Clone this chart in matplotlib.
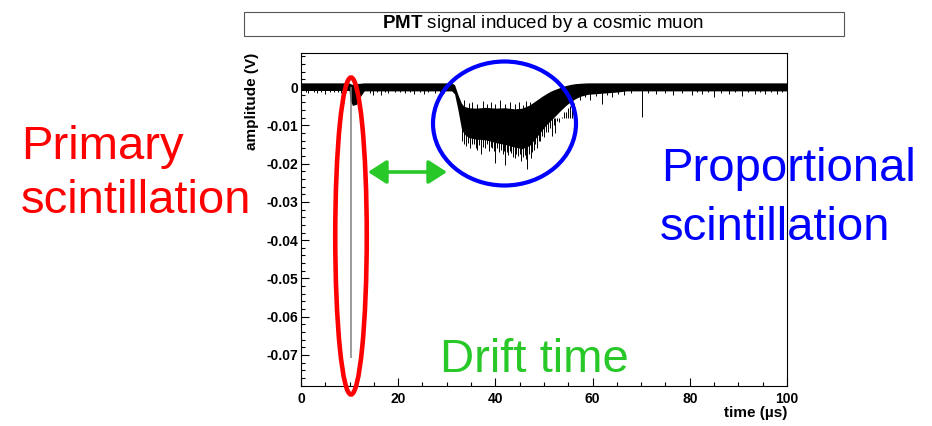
import numpy as np
from matplotlib import pyplot as plt
from matplotlib.patches import Ellipse, Rectangle, FancyArrowPatch

plt.rcParams['font.family'] = ['Liberation Sans', 'DejaVu Sans']
plt.rcParams['mathtext.fontset'] = 'custom'
plt.rcParams['mathtext.bf'] = 'Liberation Sans:bold'

# noise band of the waveform (time in us, amplitude in V)
t_env = [0, 9.9, 10.1, 10.6, 11.4, 12.2, 13.0, 31.0, 31.6, 32.3, 33.0, 33.5, 34.5, 36, 38, 40,
         42, 44, 45.5, 47, 48.5, 49.5, 50.5, 51.5, 52.5, 53.5, 54.5, 55.5, 56.5, 57.5, 59,
         62, 65, 67, 100]
env_hi = [0.0011, 0.0011, 0.0009, 0.0007, 0.0009, 0.0010, 0.0011, 0.0011, 0.0006, -0.0020,
          -0.0042, -0.0050, -0.0054, -0.0055, -0.0053, -0.0055, -0.0054, -0.0057, -0.0055,
          -0.0047, -0.0034, -0.0025, -0.0017, -0.0010, -0.0005, 0.0000, 0.0004, 0.0007,
          0.0009, 0.0010, 0.0011, 0.0011, 0.0011, 0.0011, 0.0011]
env_lo = [-0.0009, -0.0009, -0.0035, -0.0048, -0.0045, -0.0025, -0.0010, -0.0010, -0.0018,
          -0.0060, -0.0108, -0.0122, -0.0132, -0.0136, -0.0138, -0.0145, -0.0150, -0.0157,
          -0.0161, -0.0153, -0.0130, -0.0114, -0.0098, -0.0086, -0.0073, -0.0060, -0.0048,
          -0.0038, -0.0030, -0.0024, -0.0019, -0.0016, -0.0013, -0.0010, -0.0010]

# downward spikes on the baseline
base_spike_t = [1.0, 1.5, 2.6, 3.2, 4.1, 5.0, 6.0, 6.8, 7.7, 8.3, 9.2, 14.2, 14.9, 15.6, 16.4,
                17.2, 18.0, 19.4, 20.3, 21.5, 22.4, 23.3, 24.4, 25.3, 26.2, 27.5, 28.5, 29.4,
                57.5, 58.5, 59.5, 60.7, 61.9, 63.0, 64.0, 65.2, 66.5, 68.0, 70.1, 71.5, 73.0,
                74.8, 76.5, 78.3, 80.4, 81.5, 82.5, 83.7, 84.9, 86.4, 88.0, 89.3, 90.7, 92.0,
                93.5, 94.5, 95.5, 96.8, 97.9, 99.0]
base_spike_lo = [-0.0013, -0.0016, -0.0013, -0.0015, -0.0013, -0.0017, -0.0013, -0.0014,
                 -0.0013, -0.0016, -0.0013, -0.0016, -0.0020, -0.0014, -0.0022, -0.0014,
                 -0.0016, -0.0013, -0.0014, -0.0015, -0.0013, -0.0019, -0.0013, -0.0018,
                 -0.0013, -0.0015, -0.0013, -0.0016, -0.0035, -0.0026, -0.0034, -0.0024,
                 -0.0043, -0.0022, -0.0026, -0.0019, -0.0022, -0.0016, -0.0077, -0.0015,
                 -0.0018, -0.0015, -0.0020, -0.0015, -0.0021, -0.0014, -0.0017, -0.0014,
                 -0.0025, -0.0015, -0.0018, -0.0014, -0.0024, -0.0014, -0.0017, -0.0014,
                 -0.0019, -0.0014, -0.0018, -0.0014]

# spikes inside the proportional scintillation pulse (time, lowest amplitude)
prop_spikes = [(33.2, -0.0140), (33.6, -0.0150), (33.9, -0.0153), (34.3, -0.0146),
               (34.8, -0.0160), (35.2, -0.0150), (35.6, -0.0148), (36.0, -0.0158),
               (36.3, -0.0164), (36.7, -0.0152), (37.0, -0.0175), (37.4, -0.0156),
               (37.8, -0.0158), (38.2, -0.0150), (38.6, -0.0168), (39.0, -0.0156),
               (39.3, -0.0160), (39.7, -0.0166), (40.0, -0.0199), (40.4, -0.0160),
               (40.8, -0.0170), (41.2, -0.0164), (41.5, -0.0176), (41.8, -0.0168),
               (42.0, -0.0204), (42.3, -0.0170), (42.6, -0.0178), (43.0, -0.0168),
               (43.3, -0.0172), (43.7, -0.0182), (44.0, -0.0186), (44.3, -0.0176),
               (44.6, -0.0180), (45.0, -0.0174), (45.3, -0.0192), (45.7, -0.0182),
               (46.0, -0.0178), (46.3, -0.0188), (46.6, -0.0214), (47.0, -0.0176),
               (47.3, -0.0185), (47.6, -0.0170), (47.9, -0.0164), (48.2, -0.0150),
               (48.5, -0.0160), (48.9, -0.0140), (49.2, -0.0140), (49.6, -0.0128),
               (50.0, -0.0130), (50.4, -0.0118), (50.8, -0.0118), (51.2, -0.0108),
               (51.7, -0.0128), (52.0, -0.0100), (52.3, -0.0119), (52.7, -0.0088),
               (53.0, -0.0090), (53.4, -0.0080), (53.8, -0.0078), (54.2, -0.0064),
               (54.5, -0.0066), (54.9, -0.0055), (55.3, -0.0050), (55.8, -0.0040),
               (56.2, -0.0042)]
# upward spikes on the top edge of the pulse (time, highest amplitude)
prop_up = [(33.6, -0.0035), (34.5, -0.0042), (35.2, -0.0038), (36.2, -0.0044),
           (37.4, -0.0036), (38.2, -0.0043), (39.0, -0.0040), (40.0, -0.0045),
           (41.0, -0.0034), (42.0, -0.0043), (43.0, -0.0038), (44.0, -0.0045),
           (44.8, -0.0040), (45.6, -0.0046), (46.3, -0.0036), (47.2, -0.0038)]

# primary scintillation peak
prim_t = 10.2
prim_lo = -0.0708

W, H = 932, 426
fig = plt.figure(figsize=(W / 100, H / 100), dpi=100)
ax = fig.add_axes([301 / W, 1 - 386 / H, 486 / W, 333 / H])

ax.fill_between(t_env, env_lo, env_hi, color='black', lw=0)
ax.vlines(base_spike_t, base_spike_lo, 0, color='black', lw=0.7)
ps_t, ps_lo = zip(*prop_spikes)
ax.vlines(ps_t, ps_lo, -0.008, color='black', lw=0.7)
pu_t, pu_hi = zip(*prop_up)
ax.vlines(pu_t, -0.006, pu_hi, color='black', lw=0.7)
ax.vlines([prim_t], [prim_lo], [0], color='#808080', lw=1.1)

ax.set_xlim(0, 100)
ax.set_ylim(-0.0781, 0.0089)
ax.set_xticks(np.arange(0, 101, 20))
ax.set_xticks(np.arange(0, 101, 5), minor=True)
ax.set_yticks([0, -0.01, -0.02, -0.03, -0.04, -0.05, -0.06, -0.07])
ax.set_yticklabels(['0', '-0.01', '-0.02', '-0.03', '-0.04', '-0.05', '-0.06', '-0.07'])
ax.set_yticks(np.arange(-0.078, 0.009, 0.002), minor=True)
ax.tick_params(which='both', direction='in', top=False, right=False, width=0.8)
ax.tick_params(which='major', length=6)
ax.tick_params(which='minor', length=3)
ax.tick_params(axis='y', pad=2)
ax.tick_params(axis='x', pad=4)
for lab in ax.get_xticklabels() + ax.get_yticklabels():
    lab.set_fontweight('bold')
    lab.set_fontsize(10)
for s in ax.spines.values():
    s.set_linewidth(0.8)

fig.text(252 / W, 1 - 53 / H, 'amplitude (V)', rotation=90, ha='center', va='top',
         fontsize=11, fontweight='bold')
fig.text(787 / W, 1 - 413 / H, 'time (\u00b5s)', ha='right', va='center',
         fontsize=11, fontweight='bold')

# title box
fig.patches.append(Rectangle((244 / W, 1 - 36 / H), 600 / W, 24 / H, transform=fig.transFigure,
                             facecolor='white', edgecolor='#555555', lw=0.8))
fig.text(543 / W, 1 - 24 / H, r'$\bf{PMT}$ signal induced by a cosmic muon', ha='center',
         va='center', fontsize=13.5)

# annotations
fig.patches.append(Ellipse((351 / W, 1 - 236 / H), 31.5 / W, 317 / H, transform=fig.transFigure,
                           fill=False, edgecolor='#ff0000', lw=3.3))
fig.patches.append(Ellipse((504.5 / W, 1 - 123.5 / H), 143 / W, 124 / H,
                           transform=fig.transFigure, fill=False, edgecolor='#0000ff', lw=3))
fig.patches.append(FancyArrowPatch((368 / W, 1 - 172 / H), (447 / W, 1 - 172 / H),
                                   transform=fig.transFigure,
                                   arrowstyle='<|-|>,head_length=0.7,head_width=0.45',
                                   mutation_scale=16, color='#28c828', lw=2.6,
                                   shrinkA=0, shrinkB=0))

fig.text(21 / W, 1 - 159 / H, 'Primary', color='#ff0000', fontsize=34, va='baseline')
fig.text(21 / W, 1 - 213 / H, 'scintillation', color='#ff0000', fontsize=34, va='baseline')
fig.text(661 / W, 1 - 181 / H, 'Proportional', color='#0000ff', fontsize=34, va='baseline')
fig.text(660 / W, 1 - 240 / H, 'scintillation', color='#0000ff', fontsize=34, va='baseline')
fig.text(440 / W, 1 - 372 / H, 'Drift time', color='#28c828', fontsize=34, va='baseline')

plt.savefig('out.png', dpi=100)
